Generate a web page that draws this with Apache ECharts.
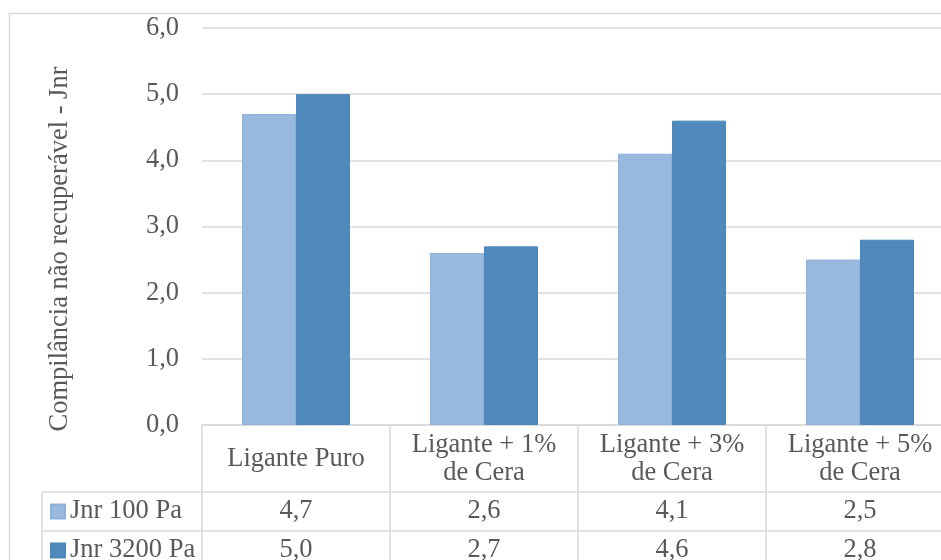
<!DOCTYPE html>
<html>
<head>
<meta charset="utf-8">
<script src="https://cdn.jsdelivr.net/npm/echarts@6/dist/echarts.min.js"></script>
<style>html,body{margin:0;padding:0;background:#fff;overflow:hidden;width:941px;height:560px}#c{width:941px;height:560px}</style>
</head>
<body>
<div id="c"></div>
<script>
var categories = ['Ligante Puro', 'Ligante + 1%\nde Cera', 'Ligante + 3%\nde Cera', 'Ligante + 5%\nde Cera'];
var seriesNames = ['Jnr 100 Pa', 'Jnr 3200 Pa'];
var jnr100 = [4.7, 2.6, 4.1, 2.5];
var jnr3200 = [5.0, 2.7, 4.6, 2.8];
var yTitle = 'Compilância não recuperável - Jnr';

var FONT = 'Liberation Serif';
var FS = 26.5;
var TXT = '#595959';
var LINE = '#d9d9d9';
function fmt(v) { return v.toFixed(1).replace('.', ','); }

var legendText = { fontFamily: FONT, fontSize: FS, lineHeight: 26, color: TXT };
var chart = echarts.init(document.getElementById('c'));
var option = {
  animation: false,
  backgroundColor: '#fff',
  textStyle: { fontFamily: FONT },
  grid: { left: 202, top: 28, width: 752, height: 397, containLabel: false, outerBoundsMode: 'none' },
  legend: [
    { data: [seriesNames[0]], orient: 'vertical', left: 50, top: 498, padding: 0,
      itemWidth: 14, itemHeight: 14, icon: 'rect', selectedMode: false, textStyle: legendText },
    { data: [seriesNames[1]], orient: 'vertical', left: 50, top: 537, padding: 0,
      itemWidth: 14, itemHeight: 14, icon: 'rect', selectedMode: false, textStyle: legendText }
  ],
  xAxis: [
    {
      type: 'category', data: categories, position: 'bottom', boundaryGap: true,
      axisLine: { show: true, lineStyle: { color: LINE, width: 1.5 } },
      axisTick: { show: true, length: 144, lineStyle: { color: LINE, width: 1.5 } },
      axisLabel: { interval: 0, margin: 34, verticalAlign: 'middle', fontFamily: FONT, fontSize: FS, lineHeight: 28, color: TXT }
    },
    {
      type: 'category', data: categories, position: 'bottom', offset: 67,
      axisLine: { show: true, lineStyle: { color: LINE, width: 1.5 } },
      axisTick: { show: false },
      axisLabel: { interval: 0, margin: 19, verticalAlign: 'middle', fontFamily: FONT, fontSize: FS, color: TXT,
        formatter: function (v, i) { return fmt(jnr100[i]); } }
    },
    {
      type: 'category', data: categories, position: 'bottom', offset: 106,
      axisLine: { show: true, lineStyle: { color: LINE, width: 1.5 } },
      axisTick: { show: false },
      axisLabel: { interval: 0, margin: 19, verticalAlign: 'middle', fontFamily: FONT, fontSize: FS, color: TXT,
        formatter: function (v, i) { return fmt(jnr3200[i]); } }
    }
  ],
  yAxis: {
    type: 'value', min: 0, max: 6, interval: 1,
    axisLine: { show: false }, axisTick: { show: false },
    splitLine: { lineStyle: { color: LINE, width: 1.5 } },
    axisLabel: { margin: 23, fontFamily: FONT, fontSize: FS, color: TXT, formatter: function (v) { return fmt(v); } }
  },
  series: [
    { name: seriesNames[0], type: 'bar', data: jnr100, barWidth: 54, barGap: '0%',
      itemStyle: { color: '#99b9df', borderColor: '#8fb1d9', borderWidth: 1 } },
    { name: seriesNames[1], type: 'bar', data: jnr3200, barWidth: 54,
      itemStyle: { color: '#508abd', borderColor: '#4d86ba', borderWidth: 1 } }
  ],
  graphic: [
    { type: 'rect', shape: { x: 9.5, y: 13.5, width: 1000, height: 600 }, style: { fill: 'none', stroke: LINE, lineWidth: 1.5 }, silent: true, z: -10 },
    { type: 'line', shape: { x1: 42, y1: 492, x2: 202, y2: 492 }, style: { stroke: LINE, lineWidth: 1.5 }, silent: true },
    { type: 'line', shape: { x1: 42, y1: 531, x2: 202, y2: 531 }, style: { stroke: LINE, lineWidth: 1.5 }, silent: true },
    { type: 'line', shape: { x1: 42, y1: 492, x2: 42, y2: 600 }, style: { stroke: LINE, lineWidth: 1.5 }, silent: true },
    { type: 'text', x: 60, y: 249, rotation: Math.PI / 2,
      style: { text: yTitle, fontFamily: FONT, fontSize: FS, fill: TXT, align: 'center', verticalAlign: 'middle' } }
  ]
};
chart.setOption(option);
</script>
</body>
</html>
